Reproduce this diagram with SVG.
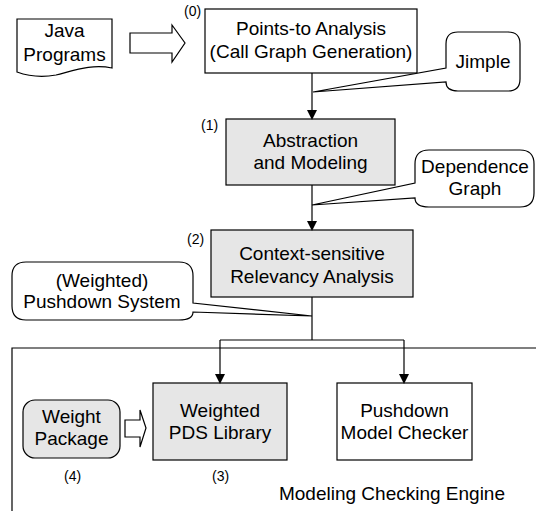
<svg xmlns="http://www.w3.org/2000/svg" width="536" height="511" viewBox="0 0 536 511">
<defs>
<style>
text{font-family:"Liberation Sans",Arial,sans-serif;fill:#000}
.t{font-size:19px;text-anchor:middle}
.n{font-size:14px}
.box{fill:#fff;stroke:#000;stroke-width:1.2}
.gray{fill:#e6e6e6;stroke:#000;stroke-width:1.2}
.ln{fill:none;stroke:#000;stroke-width:1.2}
</style>
<marker id="ah" markerWidth="10" markerHeight="12" refX="8" refY="5" orient="auto" markerUnits="userSpaceOnUse" viewBox="0 0 10 10">
<path d="M0,0 L10,5 L0,10 Z" fill="#000"/>
</marker>
</defs>
<rect width="536" height="511" fill="#fff"/>

<g id="java-programs">
<path class="box" d="M17,19 H112 V68 C92,64 76,70 56,75 C40,78 28,76 17,72 Z"/>
<text class="t" x="64.5" y="37">Java</text>
<text class="t" x="64.5" y="61">Programs</text>
</g>

<g id="input-arrow">
<path class="box" d="M130,33 H172 V25 L185,43 L172,62 V53 H130 Z"/>
</g>

<g id="points-to">
<rect class="box" x="205" y="9" width="212" height="64"/>
<text class="t" x="311" y="35">Points-to Analysis</text>
<text class="t" x="311" y="58">(Call Graph Generation)</text>
<text class="n" x="184" y="16">(0)</text>
</g>

<g id="jimple">
<path class="box" d="M446,68 V44 Q446,32 458,32 H508 Q520,32 520,44 V79 Q520,91 508,91 H458 Q446,91 446,82 L313,92 Z"/>
<text class="t" x="483" y="68">Jimple</text>
</g>

<g id="abstraction">
<rect class="gray" x="226" y="119" width="169" height="66"/>
<text class="t" x="310.5" y="147">Abstraction</text>
<text class="t" x="310.5" y="169">and Modeling</text>
<text class="n" x="201" y="130">(1)</text>
</g>

<g id="dependence-graph">
<path class="box" d="M415,183 V164 Q415,150 429,150 H520 Q534,150 534,164 V193 Q534,207 520,207 H429 Q415,207 415,198 L312,205 Z"/>
<text class="t" x="475" y="173">Dependence</text>
<text class="t" x="475" y="195">Graph</text>
</g>

<g id="context-sensitive">
<rect class="gray" x="211" y="230" width="202" height="67"/>
<text class="t" x="312" y="260">Context-sensitive</text>
<text class="t" x="312" y="283">Relevancy Analysis</text>
<text class="n" x="187" y="244">(2)</text>
</g>

<g id="pushdown-system">
<path class="box" d="M193,303 V276 Q193,262 179,262 H26 Q12,262 12,276 V306 Q12,320 26,320 H179 Q193,320 193,312 L312,316 Z"/>
<text class="t" x="102" y="287">(Weighted)</text>
<text class="t" x="102" y="308">Pushdown System</text>
</g>

<g id="engine-frame">
<path class="ln" d="M536,348 H12 V511"/>
<text x="392" y="500" font-size="19" text-anchor="middle">Modeling Checking Engine</text>
</g>

<g id="weight-package">
<rect class="gray" x="23" y="400" width="97" height="58" rx="12"/>
<text class="t" x="71.5" y="423">Weight</text>
<text class="t" x="71.5" y="445">Package</text>
<text class="n" x="64" y="481">(4)</text>
</g>

<g id="small-arrow">
<path class="box" d="M125,420 H140 V410 L146,428 L140,447 V437 H125 Z"/>
</g>

<g id="wpds-library">
<rect class="gray" x="153" y="383" width="134" height="77"/>
<text class="t" x="220" y="417">Weighted</text>
<text class="t" x="220" y="439">PDS Library</text>
<text class="n" x="212" y="481">(3)</text>
</g>

<g id="model-checker">
<rect class="box" x="337" y="383" width="135" height="77"/>
<text class="t" x="404.5" y="417">Pushdown</text>
<text class="t" x="404.5" y="439">Model Checker</text>
</g>

<g id="connectors">
<path class="ln" d="M312,73 V118" marker-end="url(#ah)"/>
<path class="ln" d="M312,185 V229" marker-end="url(#ah)"/>
<path class="ln" d="M312,297 V340"/>
<path class="ln" d="M220,340 H404"/>
<path class="ln" d="M220,340 V382" marker-end="url(#ah)"/>
<path class="ln" d="M404,340 V382" marker-end="url(#ah)"/>
</g>
</svg>
